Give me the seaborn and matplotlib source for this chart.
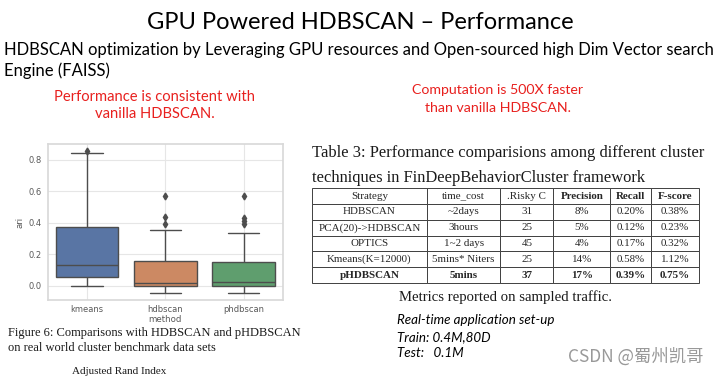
import numpy as np
import pandas as pd
import matplotlib.pyplot as plt
import seaborn as sns

# --- data ---
methods = ["kmeans", "hdbscan", "phdbscan"]
ari_kmeans = [0.0, 0.03, 0.055, 0.10, 0.135, 0.25, 0.375, 0.845, 0.856]
ari_hdbscan = [-0.045, -0.03, -0.015, -0.005, 0.0, 0.005, 0.01, 0.015, 0.02,
               0.05, 0.09, 0.12, 0.155, 0.355, 0.39, 0.44, 0.57]
ari_phdbscan = [-0.045, -0.03, -0.02, -0.01, -0.005, 0.0, 0.005, 0.01, 0.015,
                0.02, 0.025, 0.05, 0.08, 0.10, 0.125, 0.15, 0.335, 0.39, 0.41,
                0.43, 0.57]

table_cols = ["Strategy", "time_cost", ".Risky C", "Precision", "Recall", "F-score"]
table_rows = [
    ["HDBSCAN", "~2days", "31", "8%", "0.20%", "0.38%"],
    ["PCA(20)->HDBSCAN", "3hours", "25", "5%", "0.12%", "0.23%"],
    ["OPTICS", "1~2 days", "45", "4%", "0.17%", "0.32%"],
    ["Kmeans(K=12000)", "5mins* Niters", "25", "14%", "0.58%", "1.12%"],
    ["pHDBSCAN", "5mins", "37", "17%", "0.39%", "0.75%"],
]

df = pd.DataFrame({
    "method": ["kmeans"] * len(ari_kmeans) + ["hdbscan"] * len(ari_hdbscan)
              + ["phdbscan"] * len(ari_phdbscan),
    "ari": ari_kmeans + ari_hdbscan + ari_phdbscan,
})

sns.set_theme(style="whitegrid")
plt.rcParams["font.family"] = ["Lato", "DejaVu Sans"]

fig = plt.figure(figsize=(7.2, 3.77), dpi=100)
fig.patch.set_facecolor("white")

# --- slide header ---
fig.text(0.5, 0.94, "GPU Powered HDBSCAN \u2013 Performance", ha="center", va="center",
         fontsize=17, color="black")
fig.text(0.006, 0.868, "HDBSCAN optimization by Leveraging GPU resources and Open-sourced "
         "high Dim Vector search", ha="left", va="center", fontsize=12, color="black")
fig.text(0.006, 0.812, "Engine (FAISS)", ha="left", va="center", fontsize=12, color="black")

red = "#e8201e"
fig.text(0.215, 0.742, "Performance is consistent with", ha="center", va="center",
         fontsize=10.6, color=red)
fig.text(0.215, 0.697, "vanilla HDBSCAN.", ha="center", va="center", fontsize=10.6, color=red)
fig.text(0.691, 0.761, "Computation is 500X faster", ha="center", va="center",
         fontsize=10.2, color=red)
fig.text(0.691, 0.714, "than vanilla HDBSCAN.", ha="center", va="center", fontsize=10.2,
         color=red)

# --- boxplot ---
ax = fig.add_axes([0.0667, 0.204, 0.326, 0.414])
sns.boxplot(data=df, x="method", y="ari", hue="method", order=methods, palette="deep",
            legend=False, width=0.8, linecolor="0.3", linewidth=1, ax=ax,
            flierprops=dict(marker="d", markersize=3.5, markerfacecolor="0.3",
                            markeredgecolor="0.3"))
ax.set_ylim(-0.09, 0.90)
ax.set_yticks([0.0, 0.2, 0.4, 0.6, 0.8])
ax.tick_params(axis="y", labelsize=6, colors="0.35", length=0, pad=4.3)
ax.tick_params(axis="x", labelsize=6, colors="0.35", length=0, pad=3.5)
ax.set_xlabel("method", fontsize=6.2, color="0.35", family="DejaVu Sans", labelpad=0.5)
ax.set_ylabel("ari", fontsize=6.2, color="0.35", family="DejaVu Sans", labelpad=3)
for lbl in ax.get_xticklabels() + ax.get_yticklabels():
    lbl.set_family("DejaVu Sans")
for sp in ax.spines.values():
    sp.set_color("0.85")
ax.grid(color="0.9", linewidth=0.8)

serif = "Liberation Serif"
fig.text(0.011, 0.118, "Figure 6: Comparisons with HDBSCAN and pHDBSCAN", ha="left",
         va="center", fontsize=9, family=serif, color="0.1")
fig.text(0.011, 0.077, "on real world cluster benchmark data sets", ha="left",
         va="center", fontsize=9, family=serif, color="0.1")
fig.text(0.165, 0.003, "Adjusted Rand Index", ha="center", va="bottom",
         fontsize=8, family=serif, color="0.1")

# --- table ---
fig.text(0.434, 0.594, "Table 3: Performance comparisions among different cluster",
         ha="left", va="center", fontsize=11.9, family=serif, color="0.1")
fig.text(0.434, 0.528, "techniques in FinDeepBehaviorCluster framework",
         ha="left", va="center", fontsize=11.9, family=serif, color="0.1")

tax = fig.add_axes([0.4333, 0.249, 0.5375, 0.252])
tax.axis("off")
col_w = [115, 74, 53, 57, 41, 48]
tbl = tax.table(cellText=table_rows, colLabels=table_cols,
                colWidths=[w / sum(col_w) for w in col_w],
                cellLoc="center", bbox=[0, 0, 1, 1])
tbl.auto_set_font_size(False)
tbl.set_fontsize(7.9)
for (r, c), cell in tbl.get_celld().items():
    cell.set_linewidth(0.7)
    cell.set_edgecolor("0.25")
    txt = cell.get_text()
    txt.set_family(serif)
    txt.set_color("0.15")
    if r == len(table_rows) or (r == 0 and c >= 3):
        txt.set_weight("bold")

fig.text(0.702, 0.212, "Metrics reported on sampled traffic.", ha="center", va="center",
         fontsize=10.6, family=serif, color="0.1")

fig.text(0.551, 0.151, "Real-time application set-up", ha="left", va="center",
         fontsize=9.6, style="italic", color="black")
fig.text(0.551, 0.106, "Train: 0.4M,80D", ha="left", va="center",
         fontsize=9.6, style="italic", color="black")
fig.text(0.551, 0.063, "Test:   0.1M", ha="left", va="center",
         fontsize=9.6, style="italic", color="black")

fig.text(0.977, 0.055, "CSDN @\u8700\u5dde\u51ef\u54e5", ha="right", va="center",
         fontsize=12.5, color="0.6", family=["Noto Sans CJK SC", "DejaVu Sans"])

fig.savefig("out.png", dpi=100)
